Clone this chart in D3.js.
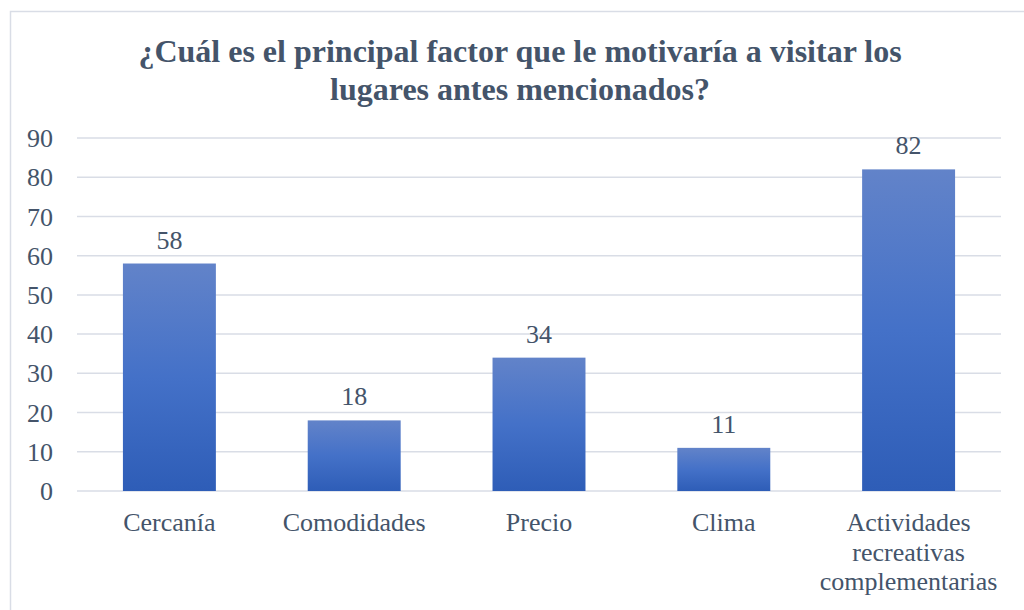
<!DOCTYPE html>
<html><head><meta charset="utf-8">
<script src="https://cdn.jsdelivr.net/npm/d3@7"></script>
<style>body{margin:0;background:#fff}svg{display:block}</style>
</head><body>
<svg id="c" width="1024" height="610"></svg>
<script>
const categories = ["Cercanía", "Comodidades", "Precio", "Clima", "Actividades recreativas complementarias"];
const categoryLines = [["Cercanía"], ["Comodidades"], ["Precio"], ["Clima"], ["Actividades", "recreativas", "complementarias"]];
const values = [58, 18, 34, 11, 82];
const yTicks = [0, 10, 20, 30, 40, 50, 60, 70, 80, 90];
const titleLines = ["¿Cuál es el principal factor que le motivaría a visitar los", "lugares antes mencionados?"];

const svg = d3.select("#c");
const textColor = "#44546a";
const font = "Liberation Serif, serif";

svg.append("rect").attr("x", 10.5).attr("y", 11.5).attr("width", 1030).attr("height", 620)
  .attr("fill", "#fff").attr("stroke", "#d9dde6").attr("stroke-width", 1.5);

const defs = svg.append("defs");
const grad = defs.append("linearGradient").attr("id", "g").attr("x1", 0).attr("y1", 0).attr("x2", 0).attr("y2", 1);
grad.append("stop").attr("offset", "0%").attr("stop-color", "#6283c9");
grad.append("stop").attr("offset", "50%").attr("stop-color", "#4471c8");
grad.append("stop").attr("offset", "100%").attr("stop-color", "#2e5db7");

const x0 = 77, x1 = 1001, yTop = 138, yBot = 491;
const x = d3.scaleBand().domain(categories).range([x0, x1]).padding(0);
const y = d3.scaleLinear().domain([0, 90]).range([yBot, yTop]);

svg.append("g").selectAll("line").data(yTicks).join("line")
  .attr("x1", x0).attr("x2", x1)
  .attr("y1", d => y(d)).attr("y2", d => y(d))
  .attr("stroke", "#d9dde6").attr("stroke-width", 1.5);

const yAxis = d3.axisLeft(y).tickValues(yTicks).tickSize(0).tickPadding(0);
const ya = svg.append("g").attr("transform", "translate(53,0)").call(yAxis);
ya.select(".domain").remove();
ya.selectAll("text").attr("font-family", font).attr("font-size", 26).attr("fill", textColor).attr("dy", "0.33em");

const bw = x.bandwidth() * 0.503;
svg.append("g").selectAll("rect").data(values).join("rect")
  .attr("x", (d, i) => x(categories[i]) + (x.bandwidth() - bw) / 2)
  .attr("width", bw)
  .attr("y", d => y(d))
  .attr("height", d => y(0) - y(d))
  .attr("fill", "url(#g)");

svg.append("g").selectAll("text").data(values).join("text")
  .attr("x", (d, i) => x(categories[i]) + x.bandwidth() / 2)
  .attr("y", d => y(d) - 15)
  .attr("text-anchor", "middle")
  .attr("font-family", font).attr("font-size", 26).attr("fill", textColor)
  .text(d => d);

const cg = svg.append("g").selectAll("text").data(categories).join("text")
  .attr("text-anchor", "middle")
  .attr("font-family", font).attr("font-size", 26).attr("fill", textColor);
cg.each(function(c, i) {
  const t = d3.select(this);
  categoryLines[i].forEach((ln, j) => {
    t.append("tspan").attr("x", x(c) + x.bandwidth() / 2).attr("y", 531 + j * 29.5).text(ln);
  });
});

svg.append("g").selectAll("text").data(titleLines).join("text")
  .attr("x", 520).attr("y", (d, i) => 62 + i * 38)
  .attr("text-anchor", "middle")
  .attr("font-family", font).attr("font-size", 32).attr("font-weight", "bold").attr("fill", textColor)
  .text(d => d);
</script>
</body></html>
